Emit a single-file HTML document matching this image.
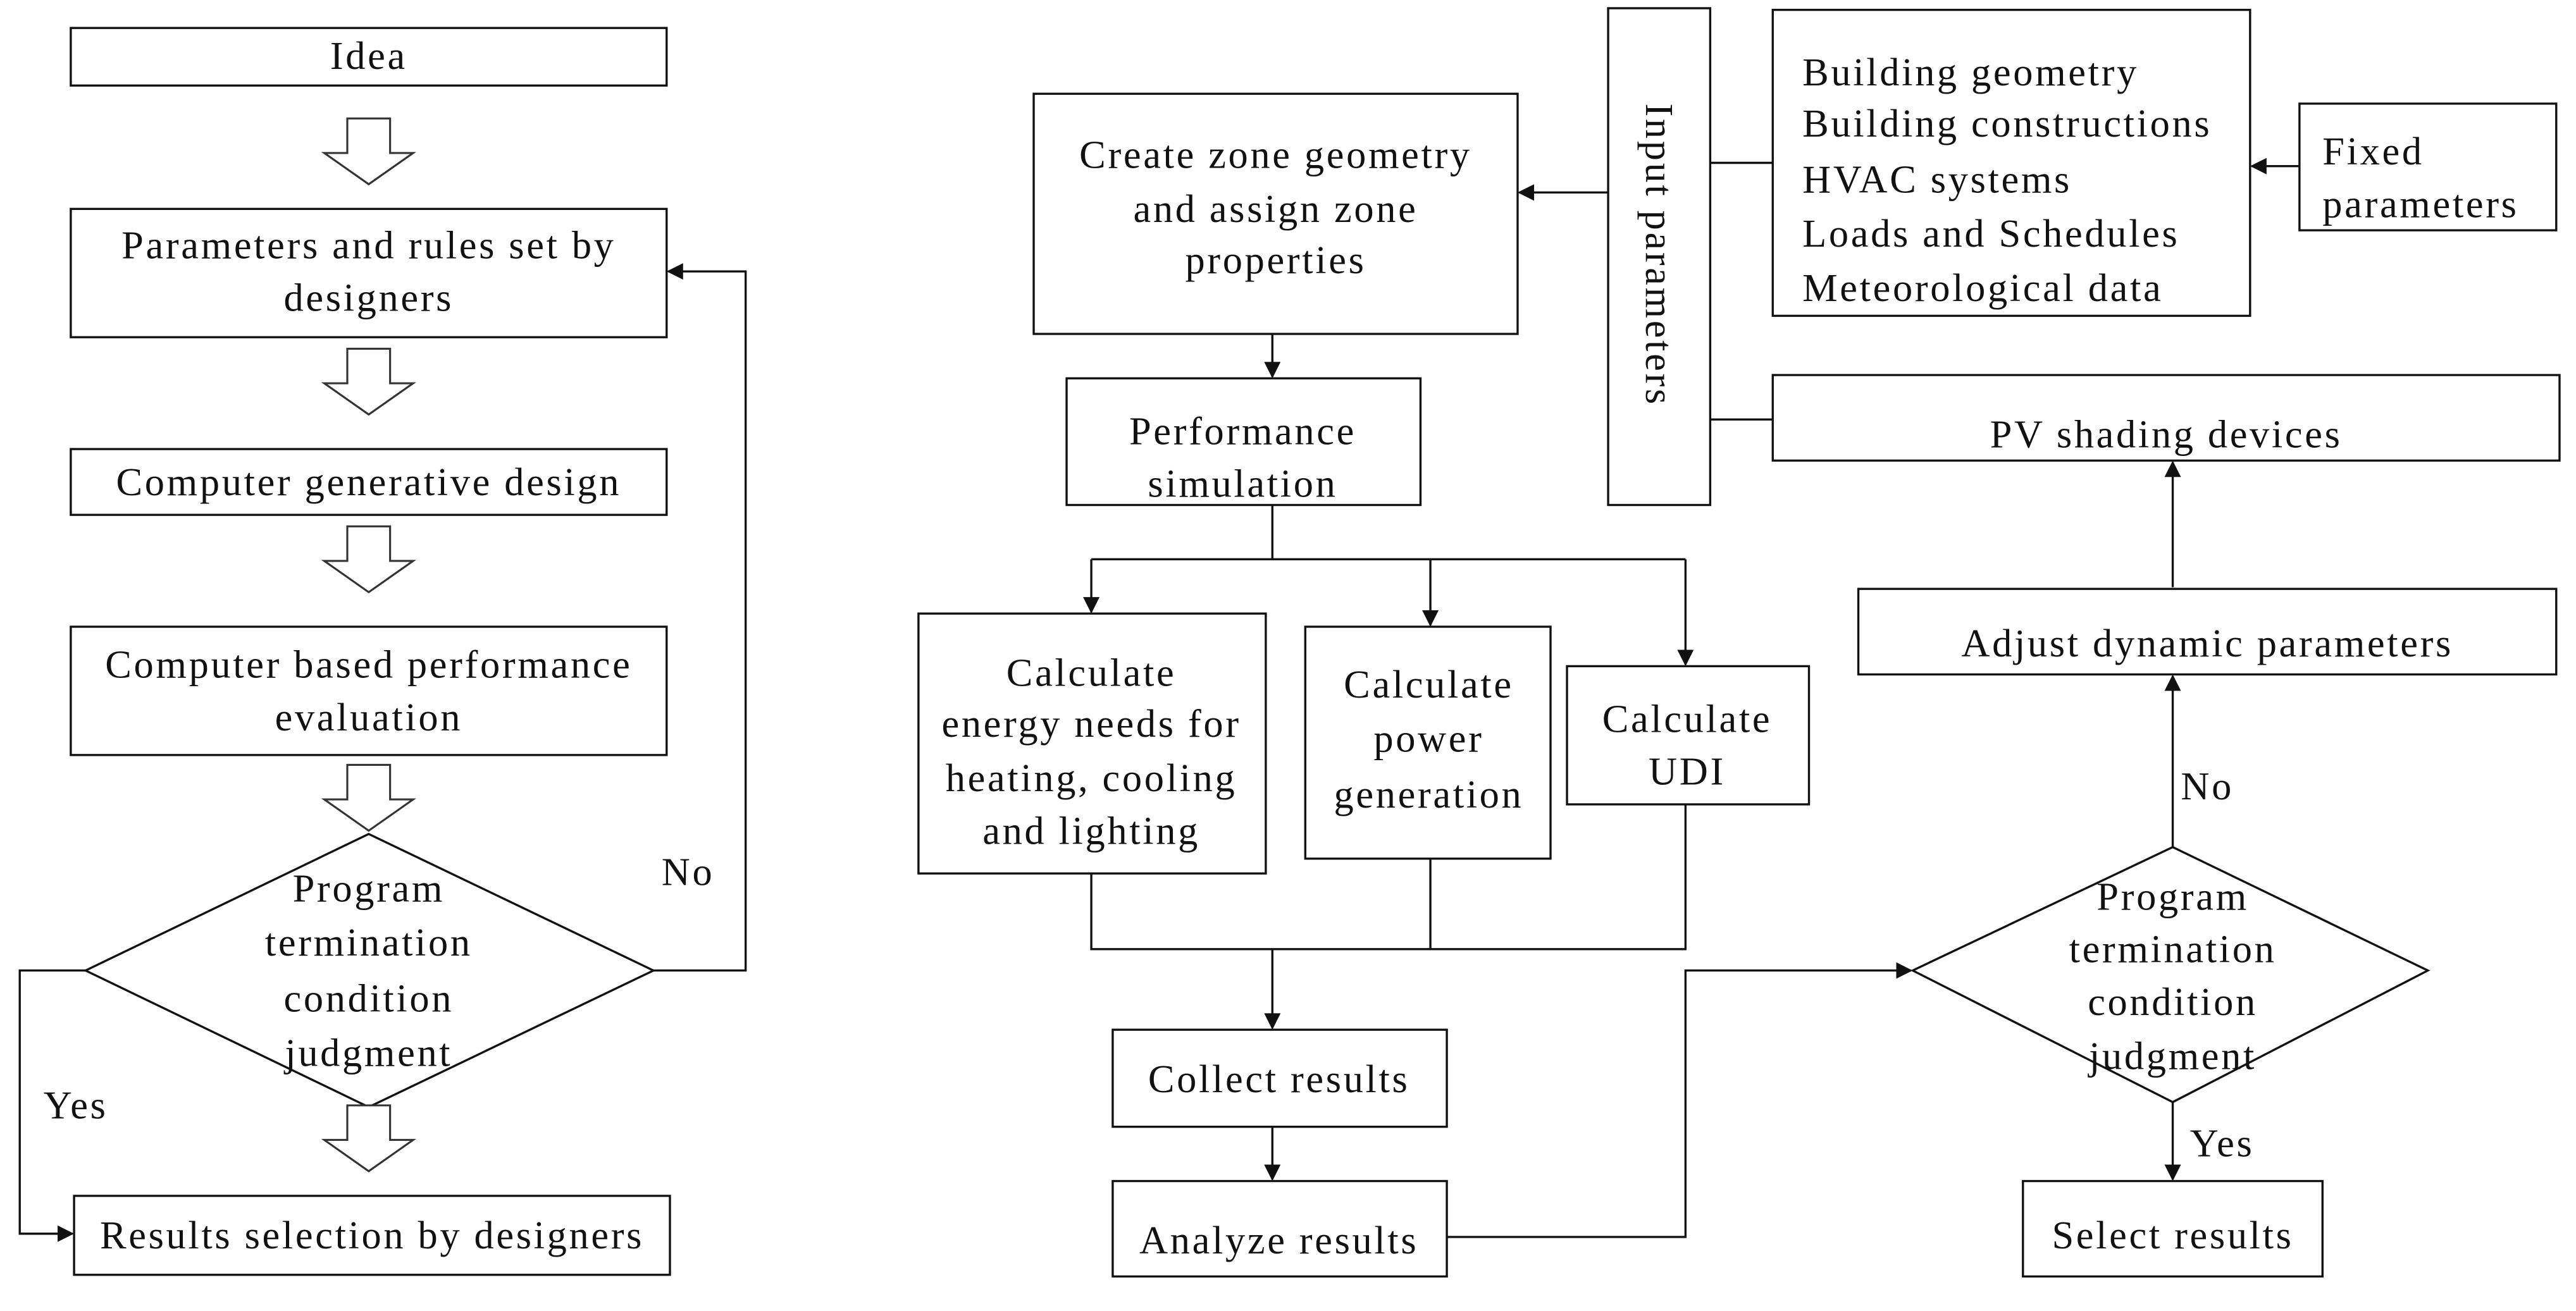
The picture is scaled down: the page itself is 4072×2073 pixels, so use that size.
<!DOCTYPE html>
<html><head><meta charset="utf-8"><style>
html,body{margin:0;padding:0;background:#fff}
svg{display:block}
text{font-family:"Liberation Serif",serif;font-size:24px;letter-spacing:1.4px;fill:#111}
</style></head><body>
<svg width="4072" height="2073" viewBox="0 0 1565 797" preserveAspectRatio="none" xmlns="http://www.w3.org/2000/svg">
<defs>
<marker id="a" markerWidth="10" markerHeight="10" refX="9" refY="5" orient="auto" markerUnits="userSpaceOnUse"><path d="M0,0 L10,5 L0,10 z" fill="#111"/></marker>
<g id="ha"><path d="M-13,0 H13 V21 H27 L0,40 L-27,21 H-13 Z" fill="#fff" stroke="#333" stroke-width="1.2"/></g>
</defs>
<g fill="none" stroke="#111" stroke-width="1.3">
<rect x="43" y="17" width="362" height="35"/>
<rect x="43" y="127" width="362" height="78"/>
<rect x="43" y="273" width="362" height="40"/>
<rect x="43" y="381" width="362" height="78"/>
<polygon points="52,590 224,507 397,590 224,673"/>
<rect x="45" y="727" width="362" height="48"/>
<polyline points="397,590 453,590 453,165 406,165" marker-end="url(#a)"/>
<polyline points="52,590 12,590 12,750 44,750" marker-end="url(#a)"/>
<rect x="628" y="57" width="294" height="146"/>
<rect x="648" y="230" width="215" height="77"/>
<rect x="558" y="373" width="211" height="158"/>
<rect x="793" y="381" width="149" height="141"/>
<rect x="952" y="405" width="147" height="84"/>
<rect x="676" y="626" width="203" height="59"/>
<rect x="676" y="718" width="203" height="58"/>
<rect x="977" y="5" width="62" height="302"/>
<rect x="1077" y="6" width="290" height="186"/>
<rect x="1397" y="63" width="156" height="77"/>
<rect x="1077" y="228" width="478" height="52"/>
<rect x="1129" y="358" width="424" height="52"/>
<polygon points="1162,590 1320,515 1475,590 1320,670"/>
<rect x="1229" y="718" width="182" height="58"/>
<line x1="773" y1="203" x2="773" y2="229" marker-end="url(#a)"/>
<polyline points="773,307 773,340"/>
<line x1="663" y1="340" x2="1024" y2="340"/>
<line x1="663" y1="340" x2="663" y2="372" marker-end="url(#a)"/>
<line x1="869" y1="340" x2="869" y2="380" marker-end="url(#a)"/>
<line x1="1024" y1="340" x2="1024" y2="404" marker-end="url(#a)"/>
<polyline points="663,531 663,577 1024,577 1024,489"/>
<line x1="869" y1="522" x2="869" y2="577"/>
<line x1="773" y1="577" x2="773" y2="625" marker-end="url(#a)"/>
<line x1="773" y1="685" x2="773" y2="717" marker-end="url(#a)"/>
<polyline points="879,752 1024,752 1024,590 1161,590" marker-end="url(#a)"/>
<line x1="977" y1="117" x2="923" y2="117" marker-end="url(#a)"/>
<line x1="1039" y1="99" x2="1077" y2="99"/>
<line x1="1039" y1="255" x2="1077" y2="255"/>
<line x1="1397" y1="101" x2="1368" y2="101" marker-end="url(#a)"/>
<line x1="1320" y1="357" x2="1320" y2="281" marker-end="url(#a)"/>
<line x1="1320" y1="515" x2="1320" y2="411" marker-end="url(#a)"/>
<line x1="1320" y1="670" x2="1320" y2="717" marker-end="url(#a)"/>
</g>
<use href="#ha" x="224" y="72"/>
<use href="#ha" x="224" y="212"/>
<use href="#ha" x="224" y="320"/>
<use href="#ha" x="224" y="465"/>
<use href="#ha" x="224" y="672"/>
<g text-anchor="middle">
<text x="224" y="42">Idea</text>
<text x="224" y="157">Parameters and rules set by</text>
<text x="224" y="189">designers</text>
<text x="224" y="301">Computer generative  design</text>
<text x="224" y="412">Computer based performance</text>
<text x="224" y="444">evaluation</text>
<text x="224" y="548">Program</text>
<text x="224" y="581">termination</text>
<text x="224" y="615">condition</text>
<text x="224" y="648">judgment</text>
<text x="226" y="759">Results selection by designers</text>
<text x="418" y="538">No</text>
<text x="46" y="680">Yes</text>
<text x="775" y="102">Create zone geometry</text>
<text x="775" y="135">and assign zone</text>
<text x="775" y="166">properties</text>
<text x="755" y="270">Performance</text>
<text x="755" y="302">simulation</text>
<text x="663" y="417">Calculate</text>
<text x="663" y="448">energy needs for</text>
<text x="663" y="481">heating, cooling</text>
<text x="663" y="513">and lighting</text>
<text x="868" y="424">Calculate</text>
<text x="868" y="457">power</text>
<text x="868" y="491">generation</text>
<text x="1025" y="445">Calculate</text>
<text x="1025" y="477">UDI</text>
<text x="777" y="664">Collect results</text>
<text x="777" y="762">Analyze  results</text>
<text x="1316" y="272">PV shading devices</text>
<text x="1341" y="399">Adjust dynamic parameters</text>
<text x="1320" y="553">Program</text>
<text x="1320" y="585">termination</text>
<text x="1320" y="617">condition</text>
<text x="1320" y="650">judgment</text>
<text x="1320" y="759">Select results</text>
<text x="1341" y="486">No</text>
<text x="1350" y="703">Yes</text>
</g>
<text x="1000" y="155" text-anchor="middle" transform="rotate(90 1000 155)">Input parameters</text>
<text x="1095" y="52">Building  geometry</text>
<text x="1095" y="83">Building  constructions</text>
<text x="1095" y="117">HVAC systems</text>
<text x="1095" y="150">Loads and Schedules</text>
<text x="1095" y="183">Meteorological  data</text>
<text x="1411" y="100">Fixed</text>
<text x="1411" y="132">parameters</text>
</svg>
</body></html>
